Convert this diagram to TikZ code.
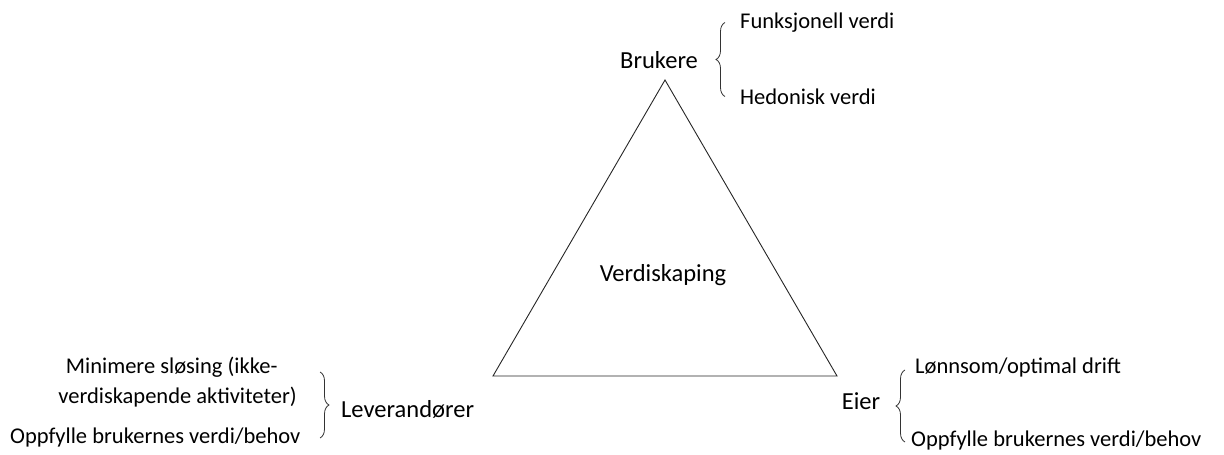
\documentclass[tikz,border=0pt]{standalone}
\usepackage{fontspec}
\setmainfont{Carlito}
\usetikzlibrary{decorations.pathreplacing}
\begin{document}
\begin{tikzpicture}[x=1pt,y=1pt,
  edge/.style={draw=black!85, line width=0.9pt, line join=miter},
  curly/.style={draw=black!80, line width=0.8pt, decorate,
    decoration={brace, amplitude=9pt, aspect=0.5}},
  main/.style={inner sep=0pt, font=\fontsize{24.5}{29}\selectfont},
  item/.style={inner sep=0pt, font=\fontsize{22.5}{30}\selectfont}]
\useasboundingbox (0,0) rectangle (1224,455);

% triangle corners
\coordinate (top) at (665,375);
\coordinate (bl)  at (493,79);
\coordinate (br)  at (837,79);
\draw[edge] (top) -- (bl) -- (br) -- cycle;

\node[main, anchor=base] (centre) at (663,173.3) {Verdiskaping};

% users
\node[main, anchor=base west] (brukere) at (620,386.7) {Brukere};
\coordinate (bTop) at (725,432.5);
\coordinate (bBot) at (725,358.5);
\draw[curly] (bBot) -- (bTop);
\node[item, anchor=base west] (funk) at (740,426.5) {Funksjonell verdi};
\node[item, anchor=base west] (hed)  at (740,350) {Hedonisk verdi};

% suppliers
\node[main, anchor=base west] (lev) at (341,37) {Leverandører};
\coordinate (lTop) at (320,83);
\coordinate (lBot) at (320,17);
\draw[curly] (lTop) -- (lBot);
\node[item, anchor=base] (min1) at (171.7,81.7) {Minimere sløsing (ikke-};
\node[item, anchor=base] (min2) at (177.5,51.7) {verdiskapende aktiviteter)};
\node[item, anchor=base west] (opp1) at (10,11.7) {Oppfylle brukernes verdi/behov};

% owner
\node[main, anchor=base west] (eier) at (841.7,45) {Eier};
\coordinate (eTop) at (905,85);
\coordinate (eBot) at (905,13);
\draw[curly] (eBot) -- (eTop);
\node[item, anchor=base west] (lonn) at (915,81.7) {Lønnsom/optimal drift};
\node[item, anchor=base west] (opp2) at (911,8.3) {Oppfylle brukernes verdi/behov};
\end{tikzpicture}
\end{document}
